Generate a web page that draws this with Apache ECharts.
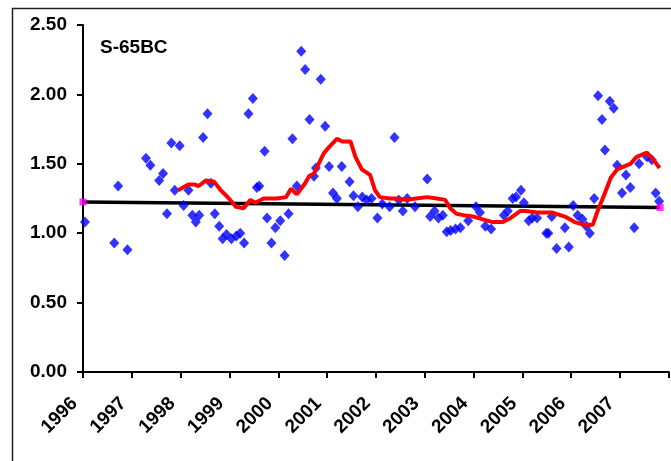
<!DOCTYPE html>
<html>
<head>
<meta charset="utf-8">
<script src="https://cdn.jsdelivr.net/npm/echarts@6/dist/echarts.min.js"></script>
<style>
  html, body { margin: 0; padding: 0; background: #fff; }
  #chart { width: 671px; height: 461px; }
</style>
</head>
<body>
<div id="chart"></div>
<script>
// Station S-65BC: individual samples, running average and linear trend
const sampleYears = [
  1996.04, 1996.64, 1996.72, 1996.91, 1997.29, 1997.38, 1997.56, 1997.64, 1997.72, 1997.81,
  1997.88, 1997.98, 1998.06, 1998.16, 1998.24, 1998.31, 1998.38, 1998.46, 1998.55, 1998.62,
  1998.70, 1998.79, 1998.86, 1998.94, 1999.04, 1999.14, 1999.22, 1999.30, 1999.39, 1999.48,
  1999.56, 1999.61, 1999.72, 1999.77, 1999.86, 1999.94, 2000.04, 2000.13, 2000.21, 2000.29,
  2000.38, 2000.47, 2000.55, 2000.64, 2000.73, 2000.77, 2000.87, 2000.96, 2001.04, 2001.12,
  2001.20, 2001.30, 2001.46, 2001.54, 2001.63, 2001.72, 2001.81, 2001.91, 2002.03, 2002.13,
  2002.28, 2002.38, 2002.47, 2002.55, 2002.64, 2002.80, 2003.05, 2003.11, 2003.20, 2003.28,
  2003.37, 2003.45, 2003.53, 2003.63, 2003.73, 2003.89, 2004.05, 2004.13, 2004.24, 2004.36,
  2004.62, 2004.70, 2004.80, 2004.87, 2004.97, 2005.03, 2005.13, 2005.20, 2005.30, 2005.49,
  2005.53, 2005.60, 2005.70, 2005.87, 2005.95, 2006.04, 2006.13, 2006.23, 2006.31, 2006.38,
  2006.47, 2006.55, 2006.63, 2006.69, 2006.79, 2006.87, 2006.94, 2007.04, 2007.12, 2007.21,
  2007.29, 2007.39, 2007.55, 2007.65, 2007.73, 2007.80
];
const sampleValues = [
  1.08, 0.93, 1.34, 0.88, 1.54, 1.49, 1.38, 1.43, 1.14, 1.65,
  1.31, 1.63, 1.20, 1.31, 1.13, 1.08, 1.13, 1.69, 1.86, 1.36,
  1.14, 1.05, 0.96, 0.99, 0.96, 0.98, 1.00, 0.93, 1.86, 1.97,
  1.33, 1.34, 1.59, 1.11, 0.93, 1.04, 1.09, 0.84, 1.14, 1.68,
  1.34, 2.31, 2.18, 1.82, 1.41, 1.47, 2.11, 1.77, 1.48, 1.29,
  1.25, 1.48, 1.37, 1.27, 1.19, 1.26, 1.24, 1.25, 1.11, 1.21,
  1.19, 1.69, 1.24, 1.16, 1.25, 1.19, 1.39, 1.12, 1.16, 1.11,
  1.13, 1.01, 1.02, 1.03, 1.04, 1.09, 1.19, 1.15, 1.05, 1.03,
  1.13, 1.16, 1.25, 1.26, 1.31, 1.22, 1.09, 1.11, 1.11, 1.00,
  1.00, 1.12, 0.89, 1.04, 0.90, 1.20, 1.13, 1.10, 1.05, 1.00,
  1.25, 1.99, 1.82, 1.60, 1.95, 1.90, 1.49, 1.29, 1.42, 1.33,
  1.04, 1.50, 1.55, 1.53, 1.29, 1.23
];

// Running average
const avgYears = [
  1997.95, 1998.15, 1998.29, 1998.37, 1998.52, 1998.69, 1998.82, 1998.99, 1999.13, 1999.29,
  1999.43, 1999.53, 1999.70, 1999.96, 2000.16, 2000.26, 2000.38, 2000.55, 2000.63, 2000.73,
  2000.77, 2000.94, 2001.04, 2001.20, 2001.31, 2001.48, 2001.58, 2001.71, 2001.88, 2001.98,
  2002.08, 2002.28, 2002.45, 2002.62, 2002.82, 2003.05, 2003.25, 2003.42, 2003.52, 2003.65,
  2003.79, 2003.99, 2004.19, 2004.39, 2004.59, 2004.76, 2004.96, 2005.06, 2005.30, 2005.60,
  2005.87, 2006.07, 2006.27, 2006.44, 2006.54, 2006.68, 2006.81, 2006.94, 2007.21, 2007.34,
  2007.55, 2007.68, 2007.81
];
const avgValues = [
  1.31, 1.35, 1.35, 1.34, 1.38, 1.37, 1.31, 1.25, 1.19, 1.18,
  1.24, 1.22, 1.25, 1.25, 1.26, 1.32, 1.28, 1.36, 1.41, 1.43,
  1.46, 1.58, 1.62, 1.68, 1.66, 1.66, 1.55, 1.46, 1.42, 1.31,
  1.26, 1.25, 1.25, 1.24, 1.25, 1.26, 1.25, 1.24, 1.18, 1.14,
  1.13, 1.12, 1.10, 1.08, 1.08, 1.11, 1.16, 1.16, 1.15, 1.15,
  1.12, 1.08, 1.06, 1.06, 1.16, 1.28, 1.40, 1.46, 1.50, 1.55,
  1.58, 1.53, 1.47
];

// Linear trend over the record
const trendYears = [1996.0, 2007.82];
const trendValues = [1.225, 1.185];

const yearTicks = ['1996', '1997', '1998', '1999', '2000', '2001', '2002',
                   '2003', '2004', '2005', '2006', '2007'];

const FONT = '"Liberation Sans", Arial, sans-serif';

const pairs = (xs, ys) => xs.map((x, i) => [x, ys[i]]);

const chart = echarts.init(document.getElementById('chart'), null, { renderer: 'canvas' });

chart.setOption({
  animation: false,
  backgroundColor: '#ffffff',
  title: {
    text: 'S-65BC',
    left: 95,
    top: 33,
    textStyle: { fontFamily: FONT, fontWeight: 'bold', fontSize: 19, color: '#000' }
  },
  graphic: [{
    type: 'rect',
    left: 10,
    top: 6,
    shape: { width: 720, height: 520 },
    style: { fill: 'none', stroke: '#222', lineWidth: 1.5 },
    silent: true,
    z: -1
  }],
  grid: { left: 83, right: -8, top: 25, bottom: 89, containLabel: false },
  xAxis: {
    type: 'value',
    min: 1996,
    max: 2008,
    interval: 1,
    axisLine: { show: true, onZero: false, lineStyle: { color: '#000', width: 2 } },
    axisTick: { show: true, inside: false, length: 6, lineStyle: { color: '#000', width: 2 } },
    splitLine: { show: false },
    axisLabel: {
      rotate: 45,
      margin: 20,
      padding: [0, 12, 0, 0],
      fontFamily: FONT,
      fontWeight: 'bold',
      fontSize: 19,
      color: '#000',
      formatter: v => {
        const i = Math.round(v - 1996);
        return yearTicks[i] !== undefined ? yearTicks[i] : '';
      }
    }
  },
  yAxis: {
    type: 'value',
    min: 0,
    max: 2.5,
    interval: 0.5,
    axisLine: { show: true, lineStyle: { color: '#000', width: 2 } },
    axisTick: { show: true, inside: false, length: 6, lineStyle: { color: '#000', width: 2 } },
    splitLine: { show: false },
    axisLabel: {
      margin: 16,
      fontFamily: FONT,
      fontWeight: 'bold',
      fontSize: 19,
      color: '#000',
      formatter: v => v.toFixed(2)
    }
  },
  series: [
    {
      name: 'Trend',
      type: 'line',
      data: pairs(trendYears, trendValues),
      showSymbol: false,
      lineStyle: { color: '#000', width: 3.5 },
      z: 2
    },
    {
      name: 'Samples',
      type: 'scatter',
      data: pairs(sampleYears, sampleValues),
      symbol: 'diamond',
      symbolSize: [10, 11],
      itemStyle: { color: '#0000ff' },
      z: 3
    },
    {
      name: 'Running average',
      type: 'line',
      data: pairs(avgYears, avgValues),
      showSymbol: false,
      lineStyle: { color: '#ff0000', width: 4 },
      z: 4
    },
    {
      name: 'Trend ends',
      type: 'scatter',
      data: pairs(trendYears, trendValues),
      symbol: 'rect',
      symbolSize: 7,
      itemStyle: { color: '#ff00ff' },
      z: 5
    }
  ]
});
</script>
</body>
</html>
